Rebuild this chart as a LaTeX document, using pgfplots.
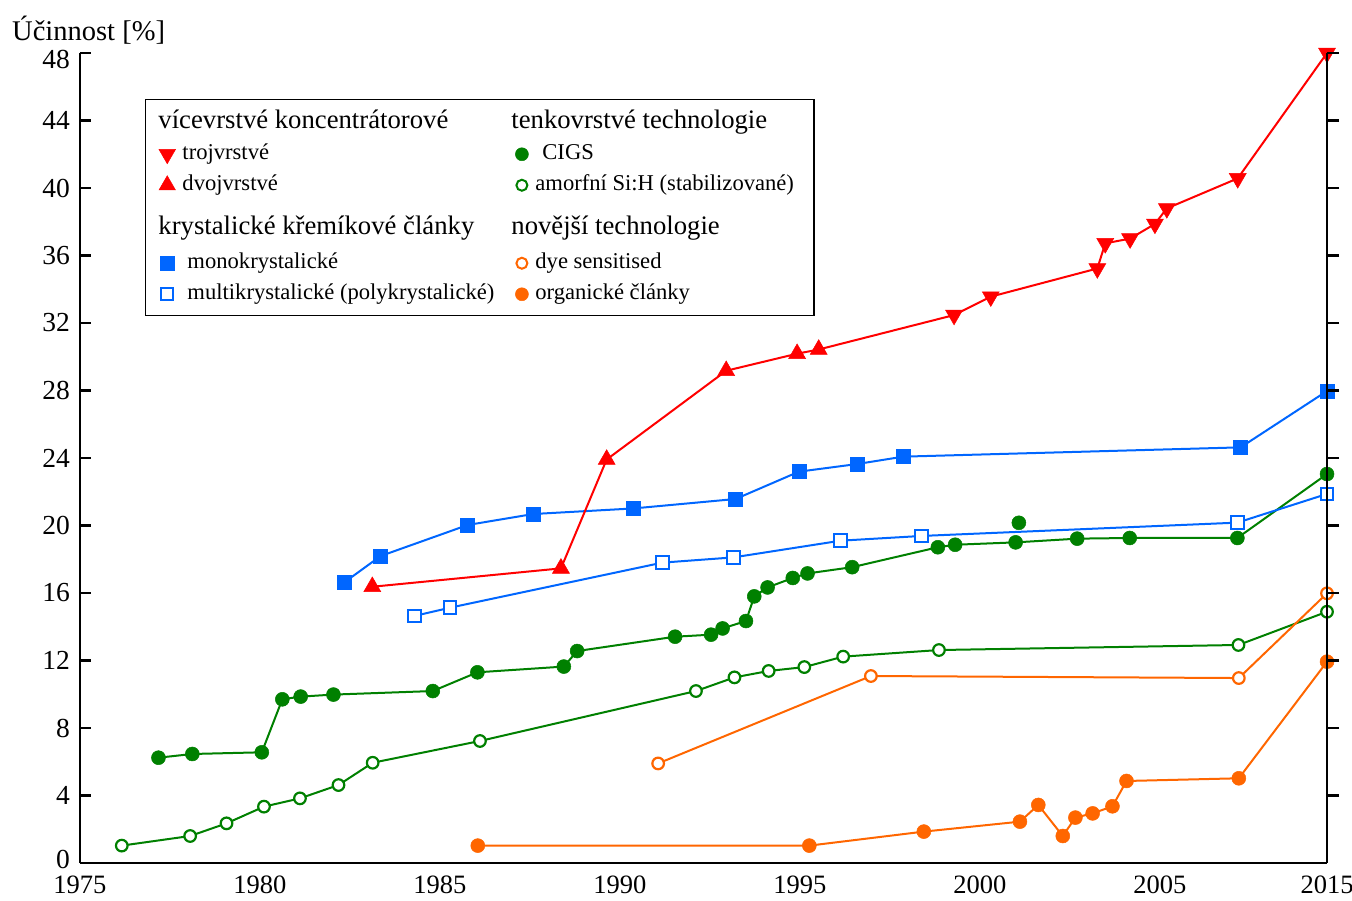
\documentclass[border=0pt]{standalone}
\usepackage{pgfplots}
\usepackage{pgfplotstable}
\pgfplotsset{compat=1.18}
\usepackage{fontspec}
\setmainfont{Liberation Serif}
\definecolor{cred}{RGB}{255,0,0}
\definecolor{cblue}{RGB}{0,102,255}
\definecolor{cgreen}{RGB}{0,128,0}
\definecolor{corange}{RGB}{255,102,0}
\newcommand{\He}[1]{\rule[-10pt]{0pt}{33pt}\smash{\hspace*{-24pt}\fontsize{26.7}{30}\selectfont #1}}
\newcommand{\Hf}[1]{\rule[-13pt]{0pt}{47pt}\smash{\hspace*{-24pt}\fontsize{26.7}{30}\selectfont #1}}
\newcommand{\En}[1]{\rule[-10pt]{0pt}{31pt}\smash{\fontsize{22.6}{26}\selectfont #1}}

\pgfplotstableread{
x y
1976.16 1.03
1978.06 1.60
1979.07 2.35
1980.11 3.34
1981.11 3.83
1982.18 4.62
1983.13 5.94
1986.11 7.23
1992.11 10.19
1993.18 11.00
1994.13 11.38
1995.12 11.61
1996.20 12.23
1998.86 12.62
2007.18 12.92
2009.64 14.89
}\amorf

\pgfplotstableread{
x y
1977.18 6.24
1978.12 6.46
1980.05 6.56
1980.62 9.70
1981.13 9.86
1982.04 9.98
1984.80 10.19
1986.04 11.30
1988.44 11.64
1988.81 12.56
1991.53 13.41
1992.53 13.53
1992.85 13.90
1993.50 14.34
1993.73 15.80
1994.10 16.33
1994.80 16.89
1995.21 17.16
1996.45 17.53
1998.83 18.71
1999.31 18.86
2000.99 19.00
2002.70 19.22
2004.16 19.26
2007.15 19.26
2009.64 23.05
}\cigs

\pgfplotstableread{
x y
2001.08 20.16
}\cigsextra

\pgfplotstableread{
x y
1982.33 16.61
1983.35 18.19
1985.77 20.03
1987.59 20.68
1990.37 21.01
1993.21 21.57
1994.97 23.19
1996.58 23.64
1997.87 24.08
2007.24 24.63
2009.64 27.97
}\mono

\pgfplotstableread{
x y
1984.29 14.64
1985.28 15.13
1991.18 17.80
1993.15 18.11
1996.13 19.10
1998.37 19.38
2007.15 20.17
2009.64 21.87
}\multi

\pgfplotstableread{
x y
1983.12 16.37
1988.36 17.46
1989.63 23.91
1992.95 29.17
1994.92 30.18
1995.52 30.43
}\dvoj

\pgfplotstableread{
x y
1999.28 32.47
2000.30 33.56
2003.26 35.23
2003.48 36.72
2004.17 37.00
2004.86 37.87
2005.19 38.79
2007.16 40.57
2009.64 48.00
}\troj

\pgfplotstableread{
x y
1983.12 16.37
1988.36 17.46
1989.63 23.91
1992.95 29.17
1994.92 30.18
1995.52 30.43
1999.28 32.47
2000.30 33.56
2003.26 35.23
2003.48 36.72
2004.17 37.00
2004.86 37.87
2005.19 38.79
2007.16 40.57
2009.64 48.00
}\redline

\pgfplotstableread{
x y
1991.06 5.90
1996.97 11.08
2007.19 10.96
2009.64 15.98
}\dye

\pgfplotstableread{
x y
1986.05 1.03
1995.26 1.03
1998.44 1.86
2001.11 2.45
2001.62 3.44
2002.30 1.60
2002.65 2.69
2003.13 2.94
2003.68 3.36
2004.07 4.86
2007.19 5.02
2009.64 11.93
}\organic

\begin{document}
\begin{tikzpicture}
\useasboundingbox (0,0) rectangle (1352pt,900pt);
\begin{axis}[
  at={(80pt,37pt)}, anchor=south west,
  scale only axis, width=1247pt, height=810pt,
  xmin=1975, xmax=2009.64, ymin=0, ymax=48,
  clip=false,
  axis x line*=bottom, axis y line*=left,
  axis line style={line width=2.5pt, black},
  xtick={1975,1980,1985,1990,1995,2000,2005,2009.64},
  xticklabels={1975,1980,1985,1990,1995,2000,2005,2015},
  ytick={0,4,...,48},
  yticklabels={\smash{\raisebox{-5pt}{0}},4,8,12,16,20,24,28,32,36,40,44,\smash{\raisebox{-16pt}{48}}},
  tick align=inside,
  major tick length=11pt,
  tick style={line width=2.5pt, black},
  x tick style={draw=none},
  tick label style={font=\fontsize{27.5}{30}\selectfont},
  x tick label style={inner sep=2pt, yshift=-11pt, font=\fontsize{26.5}{30}\selectfont},
  y tick label style={inner sep=2pt, xshift=-8pt},
  ylabel={Účinnost [\%]},
  every axis y label/.style={at={(axis description cs:-0.0545,1.016)}, anchor=base west, inner sep=0pt, font=\fontsize{28.5}{31}\selectfont},
  legend columns=2,
  legend cell align=left,
  legend style={at={(0.0521,0.9432)}, anchor=north west, draw=black, line width=1.5pt,
    inner xsep=13pt, inner ysep=6pt, row sep=0pt,
    nodes={inner xsep=7pt, inner ysep=0pt, text depth=},
    /tikz/every even column/.append style={column sep=12pt}},
]
% legend entries
\addlegendimage{empty legend}
\addlegendentry{\He{vícevrstvé koncentrátorové}}
\addlegendimage{empty legend}
\addlegendentry{\He{tenkovrstvé technologie}}
\addlegendimage{only marks, mark=triangle*, mark size=9.5pt, mark options={rotate=180, fill=cred, draw=cred, line width=0.5pt}}
\addlegendentry{\En{trojvrstvé}}
\addlegendimage{only marks, mark=*, mark size=6.5pt, mark options={fill=cgreen, draw=cgreen, line width=0.5pt}}
\addlegendentry{\En{\hspace{7pt}CIGS}}
\addlegendimage{only marks, mark=triangle*, mark size=9.5pt, mark options={fill=cred, draw=cred, line width=0.5pt}}
\addlegendentry{\En{dvojvrstvé}}
\addlegendimage{only marks, mark=*, mark size=5.5pt, mark options={fill=white, draw=cgreen, line width=2pt}}
\addlegendentry{\En{amorfní Si:H (stabilizované)}}
\addlegendimage{empty legend}
\addlegendentry{\Hf{krystalické křemíkové články}}
\addlegendimage{empty legend}
\addlegendentry{\Hf{novější technologie}}
\addlegendimage{only marks, mark=square*, mark size=7pt, mark options={fill=cblue, draw=cblue, line width=0.5pt}}
\addlegendentry{\En{\hspace{5pt}monokrystalické}}
\addlegendimage{only marks, mark=*, mark size=5.5pt, mark options={fill=white, draw=corange, line width=2pt}}
\addlegendentry{\En{dye sensitised}}
\addlegendimage{only marks, mark=square*, mark size=6pt, mark options={fill=white, draw=cblue, line width=2pt}}
\addlegendentry{\En{\hspace{5pt}multikrystalické (polykrystalické)}}
\addlegendimage{only marks, mark=*, mark size=6.5pt, mark options={fill=corange, draw=corange, line width=0.5pt}}
\addlegendentry{\En{organické články}}

% data
\addplot[forget plot, cgreen, line width=2pt, mark=*, mark size=5.8pt, mark options={fill=white, draw=cgreen, line width=2.2pt}] table {\amorf};
\addplot[forget plot, cgreen, line width=2pt, mark=*, mark size=7pt, mark options={fill=cgreen, draw=cgreen, line width=0.5pt}] table {\cigs};
\addplot[forget plot, only marks, mark=*, mark size=7pt, mark options={fill=cgreen, draw=cgreen, line width=0.5pt}] table {\cigsextra};
\addplot[forget plot, corange, line width=2pt, mark=*, mark size=5.8pt, mark options={fill=white, draw=corange, line width=2.2pt}] table {\dye};
\addplot[forget plot, corange, line width=2pt, mark=*, mark size=7pt, mark options={fill=corange, draw=corange, line width=0.5pt}] table {\organic};
\addplot[forget plot, cblue, line width=2pt, mark=square*, mark size=6.3pt, mark options={fill=white, draw=cblue, line width=2.2pt}] table {\multi};
\addplot[forget plot, cblue, line width=2pt, mark=square*, mark size=7pt, mark options={fill=cblue, draw=cblue, line width=0.5pt}] table {\mono};
\addplot[forget plot, cred, line width=2pt, no marks] table {\redline};
\addplot[forget plot, only marks, mark=triangle*, mark size=9.8pt, mark options={fill=cred, draw=cred, line width=0.5pt}] table {\dvoj};
\addplot[forget plot, only marks, mark=triangle*, mark size=9.8pt, mark options={rotate=180, fill=cred, draw=cred, line width=0.5pt}] table {\troj};
\end{axis}
\begin{axis}[
  at={(80pt,37pt)}, anchor=south west,
  scale only axis, width=1247pt, height=810pt,
  xmin=0, xmax=1, ymin=0, ymax=48,
  axis x line=none, axis y line*=right,
  axis line style={line width=2.5pt, black},
  ytick={4,8,...,48}, yticklabels={},
  tick align=outside, major tick length=12pt,
  tick style={line width=2.5pt, black},
]
\end{axis}
\end{tikzpicture}
\end{document}
